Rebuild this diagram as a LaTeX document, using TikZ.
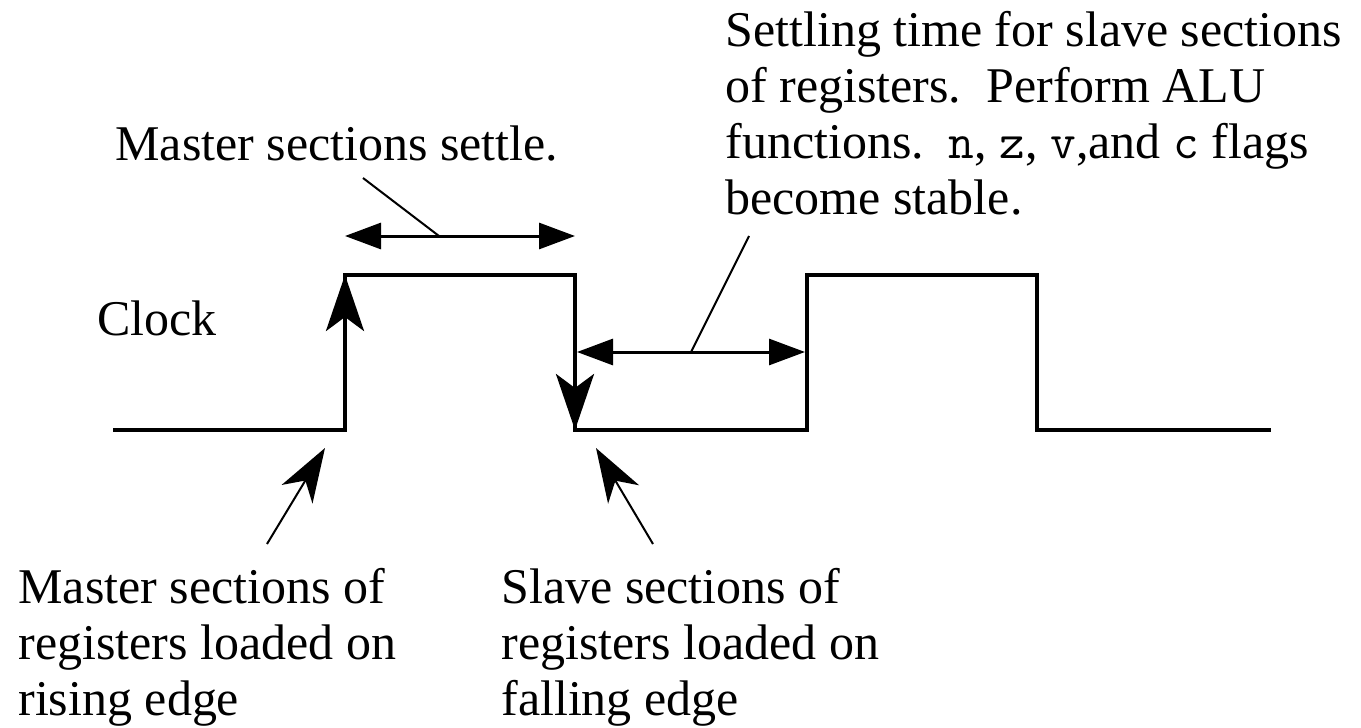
\documentclass[tikz,border=0pt]{standalone}
\usepackage{fontspec}
\setmainfont{Liberation Serif}
\usetikzlibrary{arrows.meta}
\tikzset{
  wave/.style={line width=2pt, line join=miter},
  edgearrow/.style={-{Stealth[length=28pt, width=19pt, inset=7pt]}, line width=2pt},
  spanarrow/.style={{Triangle[length=18pt, width=13pt]}-{Triangle[length=18pt, width=13pt]}, line width=1.5pt},
  leader/.style={line width=1pt},
  ptrarrow/.style={-{Stealth[length=27pt, width=18pt, inset=8pt]}, line width=1pt},
  note/.style={font=\fontsize{25pt}{28pt}\selectfont, inner sep=0pt, align=left, anchor=base west},
}
\begin{document}
\begin{tikzpicture}[x=0.5pt, y=-0.5pt]
  \useasboundingbox (0,0) rectangle (1361,728);

  % === Clock waveform ===
  \coordinate (w0) at (113,430);
  \coordinate (r1b) at (345,430);
  \coordinate (r1t) at (345,275);
  \coordinate (f1t) at (575,275);
  \coordinate (f1b) at (575,430);
  \coordinate (r2b) at (807,430);
  \coordinate (r2t) at (807,275);
  \coordinate (f2t) at (1037,275);
  \coordinate (f2b) at (1037,430);
  \coordinate (w9) at (1271,430);
  \draw[wave] (w0) -- (r1b) -- (r1t) -- (f1t) -- (f1b) -- (r2b) -- (r2t) -- (f2t) -- (f2b) -- (w9);

  % Arrows on the edges of the first pulse
  \draw[edgearrow] (r1b) -- (r1t);
  \draw[edgearrow] (f1t) -- (f1b);

  % === Timing spans ===
  \coordinate (hiL) at (345,236);
  \coordinate (hiR) at (575,236);
  \coordinate (loL) at (577,352);
  \coordinate (loR) at (805,352);
  \draw[spanarrow] (hiL) -- (hiR);
  \draw[spanarrow] (loL) -- (loR);

  % === Labels (base = baseline of the last line) ===
  \node[note] (clock) at (97,335) {Clock};
  \node[note] (settle) at (115,160) {Master sections settle.};
  \node[note] (slavetime) at (725,214) {Settling time for slave sections\\
    of registers.\ \ Perform ALU\\
    functions.\ \ \texttt{n}, \texttt{z}, \texttt{v},and \texttt{c} flags\\
    become stable.};
  \node[note] (mload) at (18,715) {Master sections of\\registers loaded on\\rising edge};
  \node[note] (sload) at (501,715) {Slave sections of\\registers loaded on\\falling edge};

  % Leader lines from the labels to the spans
  \coordinate (settleEnd) at (363,178);
  \coordinate (hiMid) at (439,236);
  \coordinate (slaveEnd) at (749,236);
  \coordinate (loMid) at (691,352);
  \draw[leader] (settleEnd) -- (hiMid);
  \draw[leader] (slaveEnd) -- (loMid);

  % Pointers to the clock edges
  \coordinate (mTail) at (267,544);
  \coordinate (mTip) at (325,448);
  \coordinate (sTail) at (653,544);
  \coordinate (sTip) at (596,448);
  \draw[ptrarrow] (mTail) -- (mTip);
  \draw[ptrarrow] (sTail) -- (sTip);

\end{tikzpicture}
\end{document}
